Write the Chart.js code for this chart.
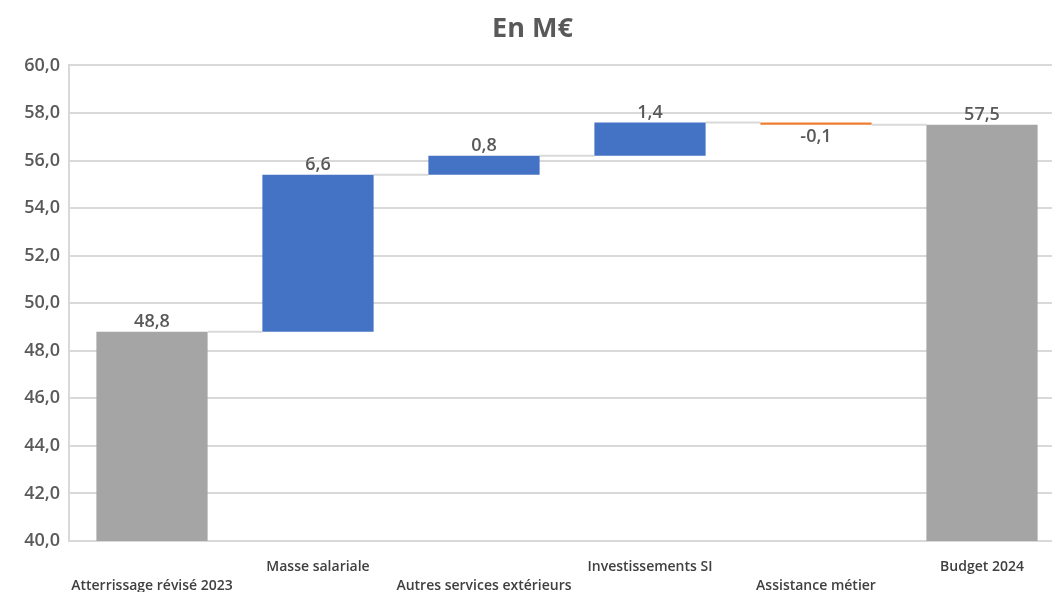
<!DOCTYPE html>
<html>
<head>
<meta charset="utf-8">
<script src="https://cdn.jsdelivr.net/npm/chart.js@4"></script>
<style>
  html, body { margin: 0; padding: 0; background: #fff; overflow: hidden; }
  #wrap { width: 1066px; height: 592px; }
</style>
</head>
<body>
<div id="wrap"><canvas id="chart"></canvas></div>
<script>
const categories = ['Atterrissage révisé 2023', 'Masse salariale', 'Autres services extérieurs', 'Investissements SI', 'Assistance métier', 'Budget 2024'];
const amounts = [48.8, 6.6, 0.8, 1.4, -0.1, 57.5];
const kinds = ['total', 'up', 'up', 'up', 'down', 'total'];
const yTicks = [40, 42, 44, 46, 48, 50, 52, 54, 56, 58, 60];

const colors = { total: '#A5A5A5', up: '#4472C4', down: '#ED7D31' };
const txt = '#595959';

// build floating ranges
let running = 0;
const ranges = amounts.map((v, i) => {
  if (kinds[i] === 'total') { running = v; return [0, v]; }
  const start = running;
  running = +(running + v).toFixed(2);
  return [start, running];
});
const ends = ranges.map(r => r[1]);

const fmt = v => v.toFixed(1).replace('.', ',');

// staggered category labels
const xLabels = categories.map((c, i) => i % 2 === 0 ? ['', c] : [c, '']);

const connectors = {
  id: 'connectors',
  beforeDatasetsDraw(chart) {
    const meta = chart.getDatasetMeta(0);
    const y = chart.scales.y;
    const ctx = chart.ctx;
    ctx.save();
    ctx.strokeStyle = '#D9D9D9';
    ctx.lineWidth = 2;
    for (let i = 0; i < meta.data.length - 1; i++) {
      const a = meta.data[i], b = meta.data[i + 1];
      const yy = y.getPixelForValue(ends[i]);
      ctx.beginPath();
      ctx.moveTo(a.x + a.width / 2, yy);
      ctx.lineTo(b.x - b.width / 2, yy);
      ctx.stroke();
    }
    ctx.restore();
  }
};

const valueLabels = {
  id: 'valueLabels',
  afterDatasetsDraw(chart) {
    const meta = chart.getDatasetMeta(0);
    const y = chart.scales.y;
    const ctx = chart.ctx;
    ctx.save();
    ctx.fillStyle = txt;
    ctx.font = '600 18px "Open Sans"';
    ctx.textAlign = 'center';
    meta.data.forEach((bar, i) => {
      const r = ranges[i];
      if (amounts[i] < 0) {
        ctx.textBaseline = 'top';
        ctx.fillText(fmt(amounts[i]), bar.x, y.getPixelForValue(Math.min(r[0], r[1])) + 3);
      } else {
        ctx.textBaseline = 'bottom';
        ctx.fillText(fmt(amounts[i]), bar.x, y.getPixelForValue(Math.max(r[0], r[1])) - 1);
      }
    });
    ctx.restore();
  }
};

new Chart(document.getElementById('chart'), {
  type: 'bar',
  data: {
    labels: xLabels,
    datasets: [{
      data: ranges,
      backgroundColor: kinds.map(k => colors[k]),
      borderWidth: 0,
      barPercentage: 1,
      categoryPercentage: 0.67
    }]
  },
  options: {
    responsive: true,
    maintainAspectRatio: false,
    animation: false,
    layout: { padding: { left: 0, right: 1, top: 0, bottom: 0 } },
    plugins: {
      legend: { display: false },
      tooltip: { enabled: false },
      title: {
        display: true,
        text: 'En M€',
        color: txt,
        font: { family: '"Open Sans"', size: 27, weight: 'bold' },
        padding: { top: 13, bottom: 20 }
      }
    },
    scales: {
      x: {
        afterFit: s => { s.height = 51; },
        grid: { display: false },
        border: { color: '#D9D9D9', width: 2 },
        ticks: {
          color: '#404040',
          font: { family: '"Open Sans"', size: 14, weight: '600', lineHeight: 1.35 },
          maxRotation: 0,
          autoSkip: false,
          padding: 9
        }
      },
      y: {
        min: 40,
        max: 60,
        afterBuildTicks: s => { s.ticks = yTicks.map(v => ({ value: v })); },
        afterFit: s => { s.width = 69; },
        grid: { color: '#D9D9D9', lineWidth: 2, drawTicks: false },
        border: { color: '#D9D9D9', width: 2 },
        ticks: {
          color: txt,
          font: { family: '"Open Sans"', size: 18, weight: '600' },
          padding: 9,
          callback: v => fmt(v)
        }
      }
    }
  },
  plugins: [connectors, valueLabels]
});
</script>
</body>
</html>
